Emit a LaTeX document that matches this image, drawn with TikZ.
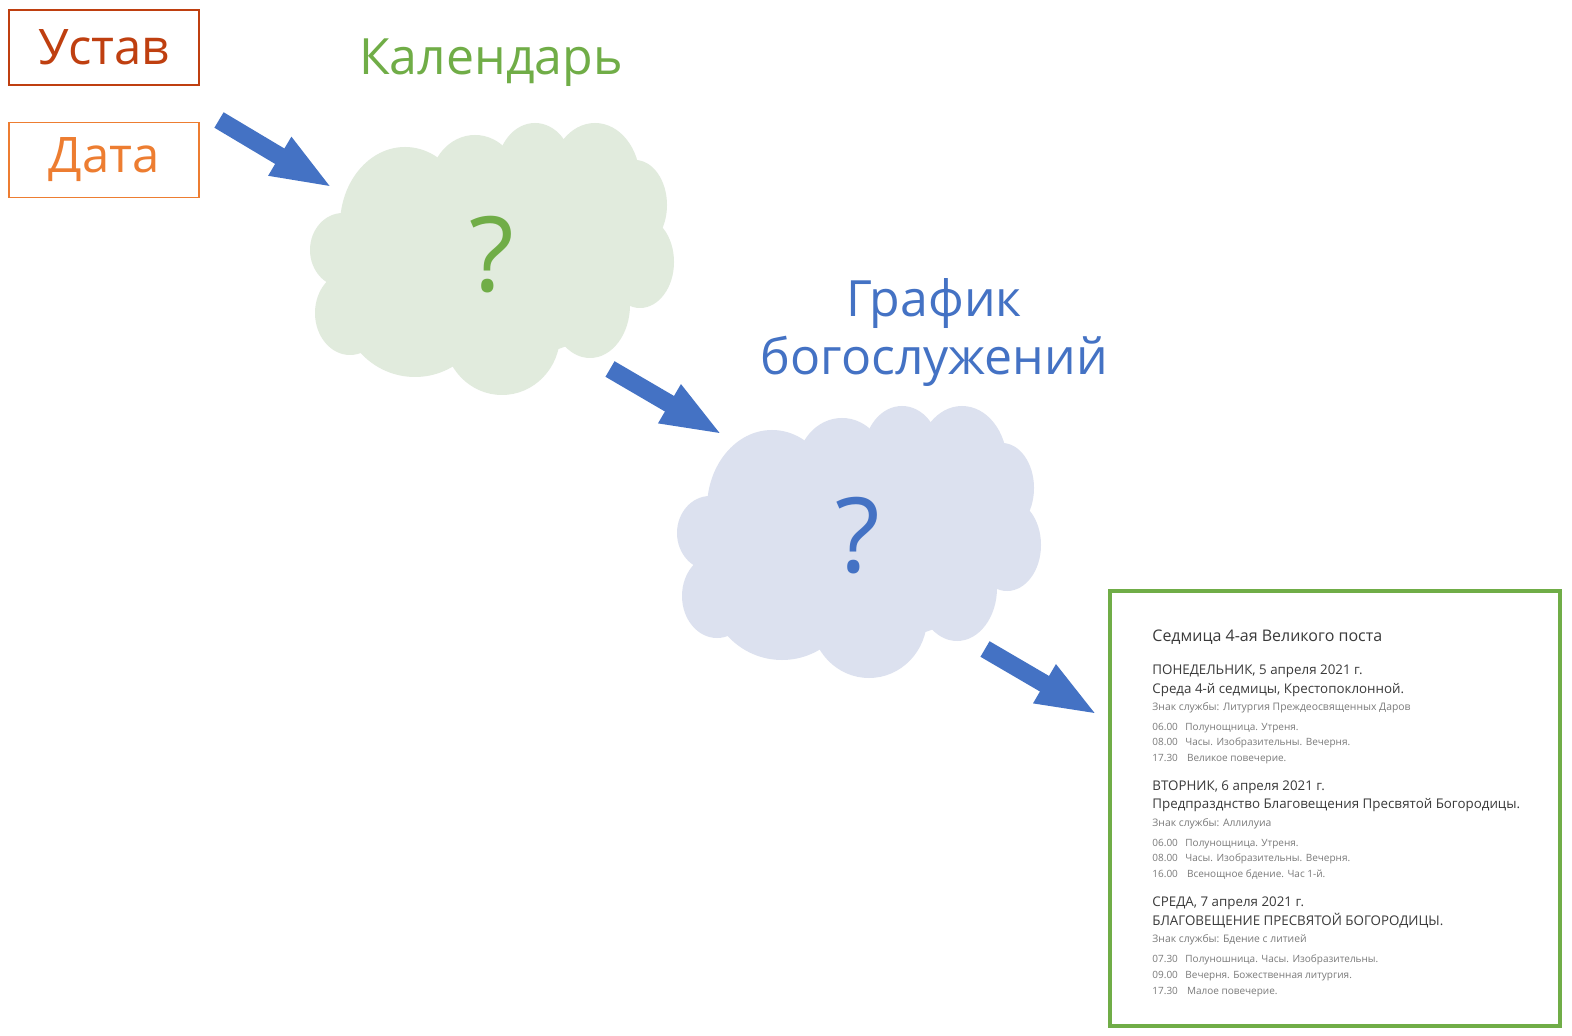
\documentclass[tikz,border=0pt]{standalone}
\usepackage{fontspec}
\setmainfont{Open Sans}
\newfontfamily\schedfont{Open Sans}
\usetikzlibrary{arrows.meta}
\definecolor{ustavc}{HTML}{BF3F10}
\definecolor{datac}{HTML}{ED7D31}
\definecolor{calc}{HTML}{70AD47}
\definecolor{bluec}{HTML}{4472C4}
\definecolor{greencloud}{HTML}{E1EBDD}
\definecolor{bluecloud}{HTML}{DCE1EF}
\definecolor{schdark}{HTML}{3A3A3A}
\definecolor{schlight}{HTML}{7A7A7A}
\newcommand\cloudbody[1]{%
  \fill[#1] (490,260) ellipse [x radius=150, y radius=100];
  \fill[#1] (343,250) ellipse [x radius=33, y radius=37];
  \fill[#1] (350,313) ellipse [x radius=35, y radius=42];
  \fill[#1] (415,300) ellipse [x radius=75, y radius=77];
  \fill[#1] (502,335) ellipse [x radius=58, y radius=60];
  \fill[#1] (590,305) ellipse [x radius=40, y radius=53];
  \fill[#1] (640,262) ellipse [x radius=34, y radius=46];
  \fill[#1] (635,205) ellipse [x radius=32, y radius=45];
  \fill[#1] (595,180) ellipse [x radius=45, y radius=57];
  \fill[#1] (535,170) ellipse [x radius=38, y radius=47];
  \fill[#1] (475,185) ellipse [x radius=45, y radius=50];
  \fill[#1] (405,225) ellipse [x radius=65, y radius=78];
}
\begin{document}
\begin{tikzpicture}[x=0.5pt,y=-0.5pt,
  inbox/.style={draw, line width=0.7pt, minimum width=95pt, minimum height=37.5pt, inner sep=0pt, font=\fontsize{24.5}{30}\selectfont},
  bigarrow/.style={draw=bluec, line width=9pt, -{Triangle[length=31pt,width=20pt]}, bluec},
  qmark/.style={anchor=base, inner sep=0pt, font=\fontsize{52}{60}\selectfont},
  sttl/.style={anchor=base west, inner sep=0pt, text=schdark, font=\schedfont\fontsize{8.0}{9}\selectfont},
  shdr/.style={anchor=base west, inner sep=0pt, text=schdark, font=\schedfont\fontsize{6.67}{9}\selectfont},
  ssign/.style={anchor=base west, inner sep=0pt, text=schlight, font=\schedfont\fontsize{5.18}{6}\selectfont},
  stime/.style={anchor=base west, inner sep=0pt, text=schlight, font=\schedfont\fontsize{5.0}{6}\selectfont}]
\useasboundingbox (0,0) rectangle (1572,1036);
\fill[white] (0,0) rectangle (1572,1036);

% left boxes
\node[inbox, draw=ustavc, text=ustavc] (ustav) at (104,47.5) {Устав};
\node[inbox, draw=datac, text=datac] (data) at (104,160) {Дата};

% titles
\node[anchor=base, inner sep=0pt, text=calc, font=\fontsize{25}{30}\selectfont] (cal) at (491,75) {Календарь};
\node[anchor=base, inner sep=0pt, text=bluec, font=\fontsize{25}{30}\selectfont] (graf1) at (934,317) {График};
\node[anchor=base, inner sep=0pt, text=bluec, font=\fontsize{25}{30}\selectfont] (graf2) at (934,375) {богослужений};

% clouds
\cloudbody{greencloud}
\node[qmark, text=calc] (c1) at (492,292) {?};
\begin{scope}[shift={(367,283)}]
\cloudbody{bluecloud}
\end{scope}
\node[qmark, text=bluec] (c2) at (858,573) {?};

% arrows
\coordinate (a1s) at (219,120);
\coordinate (a1e) at (333,188);
\coordinate (a2s) at (610,369);
\coordinate (a2e) at (723,435);
\coordinate (a3s) at (985,649);
\coordinate (a3e) at (1098,715);
\draw[bigarrow] (a1s) -- (a1e);
\draw[bigarrow] (a2s) -- (a2e);
\draw[bigarrow] (a3s) -- (a3e);

% schedule box
\node[draw=calc, line width=2pt, minimum width=225pt, minimum height=217.5pt, inner sep=0pt, anchor=north west] (sched) at (1108,589) {};

\node[sttl] (t0) at (1152,641.7) {Седмица 4-ая Великого поста};
\node[shdr] (d1) at (1152,674.3) {ПОНЕДЕЛЬНИК, 5 апреля 2021 г.};
\node[shdr] (f1) at (1152,693.3) {Среда 4-й седмицы, Крестопоклонной.};
\node[ssign] (z1) at (1152,710.7) {Знак службы: Литургия Преждеосвященных Даров};
\node[stime] (s11) at (1152,730) {\makebox[16.5pt][l]{06.00}Полунощница. Утреня.};
\node[stime] (s12) at (1152,745.7) {\makebox[16.5pt][l]{08.00}Часы. Изобразительны. Вечерня.};
\node[stime] (s13) at (1152,761.7) {\makebox[17.3pt][l]{17.30}Великое повечерие.};

\node[shdr] (d2) at (1152,790) {ВТОРНИК, 6 апреля 2021 г.};
\node[shdr] (f2) at (1152,808.3) {Предпразднство Благовещения Пресвятой Богородицы.};
\node[ssign] (z2) at (1152,826) {Знак службы: Аллилуиа};
\node[stime] (s21) at (1152,846) {\makebox[16.5pt][l]{06.00}Полунощница. Утреня.};
\node[stime] (s22) at (1152,861.7) {\makebox[16.5pt][l]{08.00}Часы. Изобразительны. Вечерня.};
\node[stime] (s23) at (1152,877.3) {\makebox[17.3pt][l]{16.00}Всенощное бдение. Час 1-й.};

\node[shdr] (d3) at (1152,906) {СРЕДА, 7 апреля 2021 г.};
\node[shdr] (f3) at (1152,925) {БЛАГОВЕЩЕНИЕ ПРЕСВЯТОЙ БОГОРОДИЦЫ.};
\node[ssign] (z3) at (1152,942.7) {Знак службы: Бдение с литией};
\node[stime] (s31) at (1152,962.7) {\makebox[16.5pt][l]{07.30}Полуношница. Часы. Изобразительны.};
\node[stime] (s32) at (1152,978.3) {\makebox[16.5pt][l]{09.00}Вечерня. Божественная литургия.};
\node[stime] (s33) at (1152,994) {\makebox[17.3pt][l]{17.30}Малое повечерие.};
\end{tikzpicture}
\end{document}
